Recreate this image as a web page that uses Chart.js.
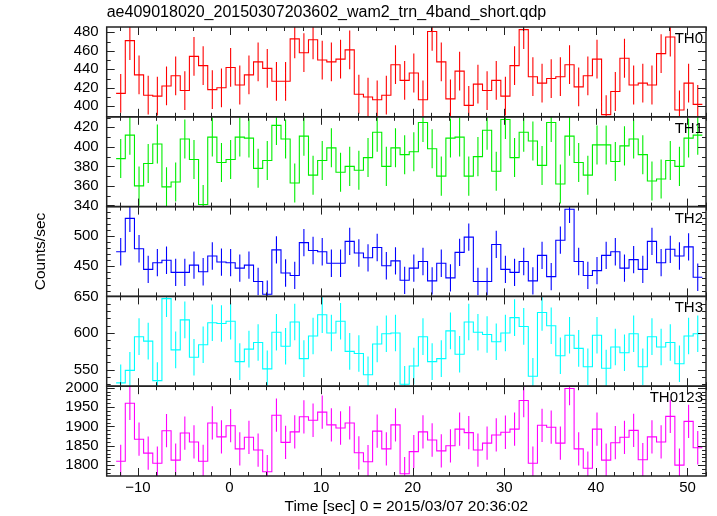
<!DOCTYPE html>
<html>
<head>
<meta charset="utf-8">
<script src="https://cdn.jsdelivr.net/npm/chart.js@4/dist/chart.umd.min.js"></script>
<style>
  html, body { margin: 0; padding: 0; background: #fff; }
  canvas { display: block; }
</style>
</head>
<body>
<canvas id="chart" width="717" height="516"></canvas>
<script>
// light curve bins: 64 bins of 1 s, first bin starts at TIME_START
const TIME_START = -12.38;
const BIN_SEC = 1.0;

const bandNames = ['TH0', 'TH1', 'TH2', 'TH3', 'TH0123'];
const bandColors = ['#ff0000', '#00ee00', '#0000ff', '#00ffff', '#ff00ff'];
const bandErrors = [21, 20, 22.5, 25, 43];

const th0 = [414, 471, 434, 412, 411, 422, 433, 417, 454, 444, 418, 420, 442, 423, 434, 448,
  441, 427, 427, 473, 458, 472, 450, 448, 451, 461, 413, 410, 407, 412, 445, 428,
  436, 407, 481, 448, 408, 438, 401, 424, 417, 428, 411, 444, 483, 432, 425, 430,
  432, 445, 421, 433, 451, 391, 416, 452, 423, 425, 423, 457, 475, 396, 425, 402];
const th1 = [388, 412, 360, 383, 403, 359, 364, 408, 387, 341, 410, 384, 387, 410, 409, 378,
  386, 422, 408, 363, 411, 371, 386, 399, 374, 380, 376, 389, 415, 380, 399, 392,
  395, 425, 398, 370, 409, 410, 370, 390, 417, 375, 428, 389, 415, 406, 381, 425,
  362, 411, 384, 371, 402, 402, 385, 401, 408, 392, 365, 367, 386, 380, 409, 412];
const th2 = [474, 529, 479, 445, 456, 460, 440, 440, 452, 441, 467, 457, 456, 447, 452, 425,
  404, 477, 439, 435, 489, 476, 474, 455, 455, 491, 472, 464, 481, 451, 459, 427,
  447, 458, 426, 455, 431, 473, 498, 425, 425, 486, 445, 440, 458, 426, 468, 433,
  493, 544, 458, 435, 443, 468, 474, 447, 461, 445, 491, 456, 478, 467, 482, 432];
const th3 = [532, 549, 595, 589, 535, 647, 577, 618, 567, 584, 614, 613, 616, 561, 578, 587,
  551, 601, 582, 615, 565, 596, 625, 600, 616, 575, 572, 543, 585, 599, 600, 530,
  555, 595, 561, 565, 603, 571, 615, 601, 598, 588, 600, 621, 609, 541, 628, 610,
  569, 597, 579, 554, 597, 552, 581, 573, 599, 554, 595, 581, 587, 558, 596, 599];
const th0123 = [1810, 1960, 1867, 1831, 1805, 1889, 1813, 1883, 1860, 1810, 1909, 1873, 1902, 1842, 1872, 1839,
  1783, 1929, 1859, 1886, 1925, 1916, 1937, 1904, 1896, 1909, 1832, 1809, 1888, 1842, 1904, 1778,
  1835, 1886, 1865, 1837, 1850, 1893, 1884, 1839, 1857, 1878, 1885, 1893, 1967, 1805, 1903, 1898,
  1857, 1998, 1842, 1792, 1893, 1813, 1858, 1872, 1890, 1814, 1873, 1860, 1926, 1800, 1913, 1845];
const bandValues = [th0, th1, th2, th3, th0123];

// axes
const X_MIN = -13.41, X_MAX = 52.02;
const xTicks = [-10, 0, 10, 20, 30, 40, 50];
const yMins = [388.6, 338.8, 400.5, 527.4, 1772];
const yMaxs = [485.8, 430.8, 548.3, 650, 2004];
const yTicks = [
  [400, 420, 440, 460, 480],
  [340, 360, 380, 400, 420],
  [450, 500],
  [550, 600, 650],
  [1800, 1850, 1900, 1950, 2000]
];
const yMajor = [20, 20, 50, 50, 50];
const yMinor = [10, 10, 10, 10, 10];

const TITLE = 'ae409018020_20150307203602_wam2_trn_4band_short.qdp';
const X_TITLE = 'Time [sec] 0 = 2015/03/07 20:36:02';
const Y_TITLE = 'Counts/sec';
const FONT = "'Liberation Sans', Arial, sans-serif";

function fmtNum(v) {
  return v < 0 ? '\u2212' + Math.abs(v) : String(v);
}

const datasets = [];
bandValues.forEach((vals, i) => {
  // one point per bin start, plus the closing edge of the last bin
  const steps = vals.map((v, k) => ({ x: TIME_START + k * BIN_SEC, y: v }));
  steps.push({ x: TIME_START + vals.length * BIN_SEC, y: vals[vals.length - 1] });
  datasets.push({
    label: bandNames[i],
    data: steps,
    yAxisID: 'y' + i,
    stepped: 'before',
    borderColor: bandColors[i],
    borderWidth: 1.1,
    pointRadius: 0,
    fill: false,
  });
  // error bars: vertical segments at bin centres, split by null gaps
  const bars = [];
  vals.forEach((v, k) => {
    const t = TIME_START + (k + 0.5) * BIN_SEC;
    bars.push({ x: t, y: v - bandErrors[i] }, { x: t, y: v + bandErrors[i] }, { x: t, y: null });
  });
  datasets.push({
    label: bandNames[i] + ' err',
    data: bars,
    yAxisID: 'y' + i,
    spanGaps: false,
    borderColor: bandColors[i],
    borderWidth: 1.1,
    pointRadius: 0,
    fill: false,
  });
});

const scales = {
  x: {
    type: 'linear',
    position: 'bottom',
    min: X_MIN,
    max: X_MAX,
    grid: { display: false, drawTicks: false },
    border: { display: false },
    afterBuildTicks: (s) => { s.ticks = xTicks.map((value) => ({ value })); },
    afterFit: (s) => { s.height = 40; },
    ticks: { color: '#000', font: { family: FONT, size: 15 }, padding: 3, maxRotation: 0, autoSkip: false, callback: (v) => fmtNum(v) },
    title: { display: true, text: X_TITLE, color: '#000', font: { family: FONT, size: 15.5 }, padding: { top: 0, bottom: 0 } },
  },
};
bandNames.forEach((name, i) => {
  scales['y' + i] = {
    type: 'linear',
    position: 'left',
    stack: 'bands',
    stackWeight: 1,
    weight: 5 - i,
    min: yMins[i],
    max: yMaxs[i],
    grid: { display: false, drawTicks: false },
    border: { display: false },
    afterBuildTicks: (s) => { s.ticks = yTicks[i].map((value) => ({ value })); },
    afterFit: (s) => { s.width = 106.7; },
    ticks: { color: '#000', font: { family: FONT, size: 15 }, padding: 8, autoSkip: false, callback: (v) => fmtNum(v) },
    title: i === 2
      ? { display: true, text: Y_TITLE, color: '#000', font: { family: FONT, size: 15.5 }, padding: { top: 31, bottom: 0 } }
      : { display: false },
  };
});

// clip each band to its own panel
const panelClip = {
  id: 'panelClip',
  beforeDatasetDraw(chart, args) {
    const ds = chart.data.datasets[args.index];
    const ys = chart.scales[ds.yAxisID];
    const a = chart.chartArea;
    const ctx = chart.ctx;
    ctx.save();
    ctx.beginPath();
    ctx.rect(a.left, ys.top, a.right - a.left, ys.bottom - ys.top);
    ctx.clip();
  },
  afterDatasetDraw(chart) {
    chart.ctx.restore();
  },
};

// qdp-style frames, inward ticks and band labels
const panelFrame = {
  id: 'panelFrame',
  afterDatasetsDraw(chart) {
    const { ctx, chartArea: a } = chart;
    const xs = chart.scales.x;
    ctx.save();
    ctx.strokeStyle = '#222';
    bandNames.forEach((name, i) => {
      const ys = chart.scales['y' + i];
      ctx.lineWidth = 1;
      ctx.beginPath();
      const k0 = Math.ceil(ys.min / yMinor[i]);
      const k1 = Math.floor(ys.max / yMinor[i]);
      for (let k = k0; k <= k1; k++) {
        const v = k * yMinor[i];
        const py = Math.round(ys.getPixelForValue(v)) + 0.5;
        const len = v % yMajor[i] === 0 ? 8 : 4;
        ctx.moveTo(a.left, py); ctx.lineTo(a.left + len, py);
        ctx.moveTo(a.right, py); ctx.lineTo(a.right - len, py);
      }
      for (let k = Math.ceil(xs.min / 2); k <= Math.floor(xs.max / 2); k++) {
        const t = k * 2;
        const px = Math.round(xs.getPixelForValue(t)) + 0.5;
        const len = t % 10 === 0 ? 8 : 4;
        ctx.moveTo(px, ys.bottom); ctx.lineTo(px, ys.bottom - len);
        ctx.moveTo(px, ys.top); ctx.lineTo(px, ys.top + len);
      }
      ctx.stroke();
      ctx.lineWidth = 1.5;
      ctx.strokeRect(a.left, ys.top, a.right - a.left, ys.bottom - ys.top);
      ctx.fillStyle = '#000';
      ctx.font = '15px ' + FONT;
      ctx.textAlign = 'right';
      ctx.textBaseline = 'alphabetic';
      ctx.fillText(name, a.right - 3, ys.top + 16);
    });
    ctx.restore();
  },
};

new Chart(document.getElementById('chart'), {
  type: 'line',
  data: { datasets },
  options: {
    responsive: false,
    animation: false,
    events: [],
    layout: { padding: { left: 0, right: 11, top: 0, bottom: 0 } },
    plugins: {
      legend: { display: false },
      tooltip: { enabled: false },
      title: {
        display: true,
        text: TITLE,
        align: 'start',
        fullSize: false,
        color: '#000',
        font: { family: FONT, size: 16, weight: 'normal' },
        padding: { top: 3, bottom: 4.8 },
      },
    },
    scales,
  },
  plugins: [panelClip, panelFrame],
});
</script>
</body>
</html>
